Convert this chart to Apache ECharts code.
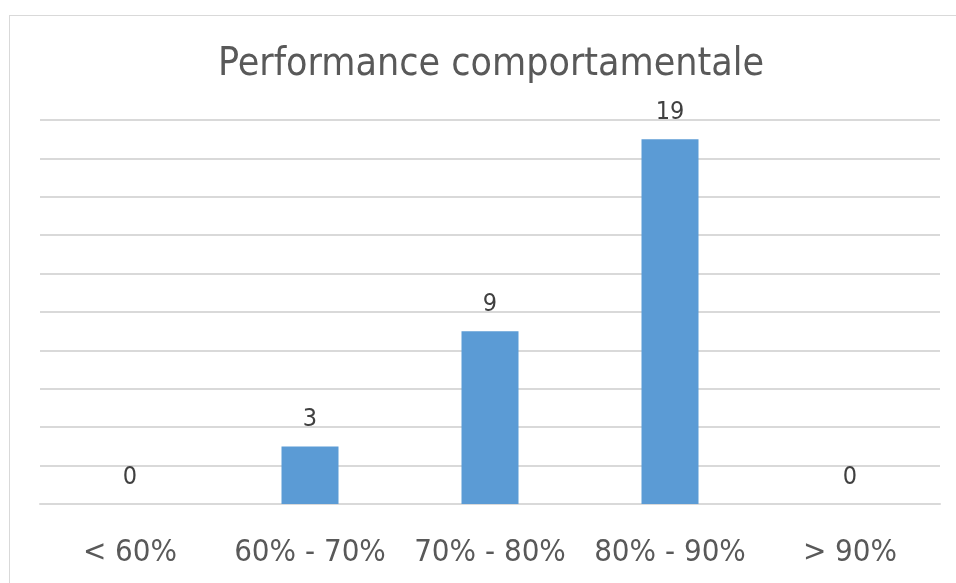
<!DOCTYPE html>
<html><head><meta charset="utf-8">
<script src="https://cdn.jsdelivr.net/npm/echarts@6/dist/echarts.min.js"></script>
<style>html,body{margin:0;padding:0;background:#fff}#c{width:956px;height:583px}
#frame{position:absolute;left:9px;top:15px;width:960px;height:600px;border:1.5px solid #d9d9d9;box-sizing:border-box;pointer-events:none}</style>
</head><body><div id="c"></div><div id="frame"></div>
<script>
const categories = ['< 60%', '60% - 70%', '70% - 80%', '80% - 90%', '> 90%'];
const values = [0, 3, 9, 19, 0];
const titleText = 'Performance comportamentale';
const FONT = '"Liberation Sans Narrow", "DejaVu Sans Condensed", "Open Sans", sans-serif';
const chart = echarts.init(document.getElementById('c'));
chart.setOption({
  animation: false,
  title: { text: titleText, left: 213, top: 40, textStyle: { fontFamily: FONT, fontSize: 39, fontWeight: 'normal', color: '#595959' } },
  grid: { left: 40, right: 16, top: 120, bottom: 79 },
  xAxis: { type: 'category', data: categories,
    axisLine: { show: true, lineStyle: { color: '#d9d9d9', width: 2 } }, axisTick: { show: false },
    axisLabel: { interval: 0, fontFamily: FONT, fontSize: 31, color: '#595959', margin: 33 } },
  yAxis: { type: 'value', min: 0, max: 20, interval: 2,
    axisLabel: { show: false }, axisLine: { show: false }, axisTick: { show: false },
    splitLine: { lineStyle: { color: '#d9d9d9', width: 2 } } },
  series: [{ type: 'bar', data: values, barWidth: 57,
    itemStyle: { color: '#5b9bd5' },
    label: { show: true, position: 'top', distance: 14, fontFamily: FONT, fontSize: 25, color: '#404040' } }]
});
</script></body></html>
